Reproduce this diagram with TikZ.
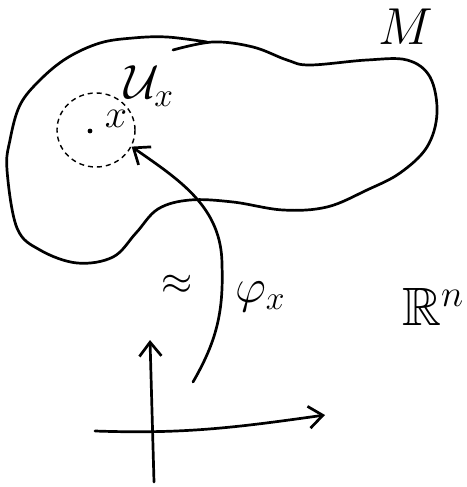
\documentclass[tikz,border=0pt]{standalone}
\usepackage{fix-cm}
\usepackage{amsmath,amssymb}
\usepackage{tikz}
\usetikzlibrary{arrows.meta,shapes.geometric}

\begin{document}
\begin{tikzpicture}[x=1pt, y=1pt,
    stroke/.style={line width=2.7pt, line cap=round, line join=round},
    barb/.style={stroke, -{Straight Barb[length=14pt, width=22pt]}},
    big/.style={inner sep=0pt, font=\fontsize{40}{48}\selectfont},
    nbhd/.style={draw, ellipse, line width=1.4pt, dash pattern=on 5pt off 4pt, minimum width=78pt, minimum height=74pt, inner sep=0pt}
]
\useasboundingbox (0,0) rectangle (466,-487);
% manifold M
\draw[stroke] plot[smooth, tension=0.6] coordinates {
    (173,-50) (213,-42) (253,-47) (287,-60) (310,-65) (367,-60) (407,-60)
    (430,-77) (437,-113) (427,-147) (400,-173) (367,-190) (327,-207)
    (283,-210) (233,-202) (190,-200) (158,-209) (136,-233) (113,-257)
    (77,-263) (40,-250) (17,-228) (7,-170) (10,-140) (20,-105) (40,-80)
    (67,-58) (100,-43) (133,-38) (167,-37) (207,-42)};
\node[big, font=\fontsize{52}{62}\selectfont] (M) at (406,-27) {$M$};
% neighbourhood of x
\node[nbhd] (Ux) at (96,-130) {};
\fill (90,-131) circle (2.4pt) coordinate (pt);
\node[big] (xlab) at (116,-119) {$x$};
\node[big, font=\fontsize{48}{56}\selectfont] (Ulab) at (149,-86) {$\mathcal{U}_x$};
% chart
\coordinate (phistart) at (193,-382);
\draw[barb] (phistart) to[out=60, in=-88] (222,-265) to[out=90, in=-35] (Ux.-25);
\node[big, font=\fontsize{40}{48}\selectfont] (iso) at (177,-285) {$\approx$};
\node[big, font=\fontsize{48}{56}\selectfont] (philab) at (260,-297) {$\varphi_x$};
% R^n
\coordinate (hL) at (95,-431);
\coordinate (hR) at (325,-415);
\coordinate (vB) at (154,-482);
\coordinate (vT) at (150,-340);
\draw[barb] (hL) to[out=-2, in=188] (hR);
\draw[barb] (vB) -- (vT);
\node[big, font=\fontsize{54}{64}\selectfont] (Rn) at (433,-307) {$\mathbb{R}^n$};
\end{tikzpicture}
\end{document}
